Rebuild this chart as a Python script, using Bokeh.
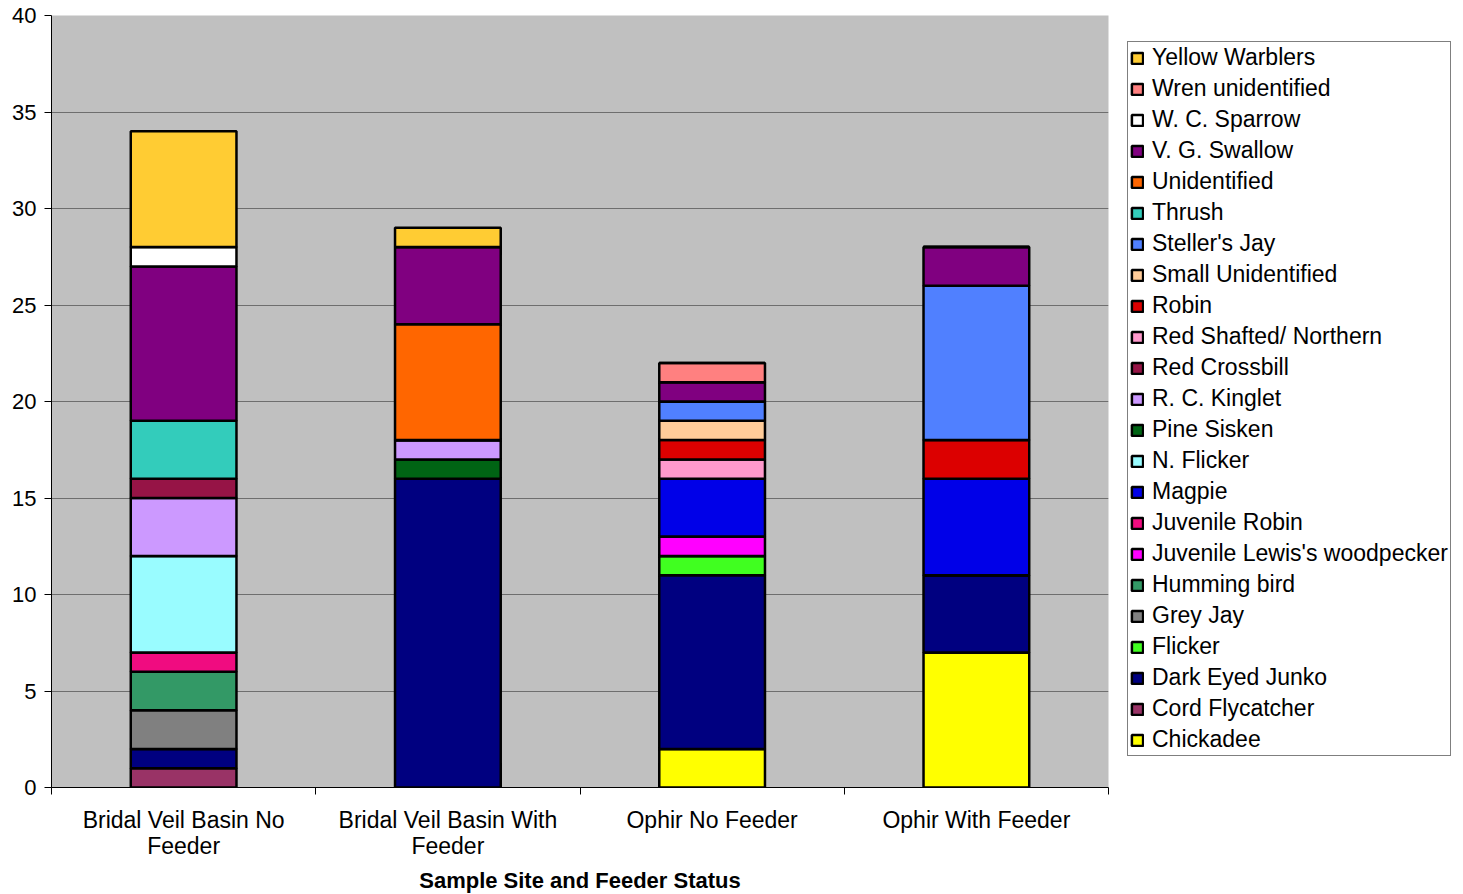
import numpy as np
from bokeh.plotting import figure
from bokeh.models import Range1d, FixedTicker, Legend, LegendItem, ColumnDataSource
from bokeh.embed import file_html
from bokeh.resources import INLINE

categories = ["Bridal Veil Basin No Feeder", "Bridal Veil Basin With Feeder",
              "Ophir No Feeder", "Ophir With Feeder"]
tick_labels = ["Bridal Veil Basin No\nFeeder", "Bridal Veil Basin With\nFeeder",
               "Ophir No Feeder", "Ophir With Feeder"]

species = ["Chickadee", "Cord Flycatcher", "Dark Eyed Junko", "Flicker", "Grey Jay",
           "Humming bird", "Juvenile Lewis's woodpecker", "Juvenile Robin", "Magpie",
           "N. Flicker", "Pine Sisken", "R. C. Kinglet", "Red Crossbill",
           "Red Shafted/ Northern", "Robin", "Small Unidentified", "Steller's Jay",
           "Thrush", "Unidentified", "V. G. Swallow", "W. C. Sparrow",
           "Wren unidentified", "Yellow Warblers"]

chickadee = [0, 0, 2, 7]
cord_flycatcher = [1, 0, 0, 0]
dark_eyed_junko = [1, 16, 9, 4]
flicker = [0, 0, 1, 0]
grey_jay = [2, 0, 0, 0]
humming_bird = [2, 0, 0, 0]
juv_lewis_woodpecker = [0, 0, 1, 0]
juvenile_robin = [1, 0, 0, 0]
magpie = [0, 0, 3, 5]
n_flicker = [5, 0, 0, 0]
pine_sisken = [0, 1, 0, 0]
rc_kinglet = [3, 1, 0, 0]
red_crossbill = [1, 0, 0, 0]
red_shafted = [0, 0, 1, 0]
robin = [0, 0, 1, 2]
small_unidentified = [0, 0, 1, 0]
stellers_jay = [0, 0, 1, 8]
thrush = [3, 0, 0, 0]
unidentified = [0, 6, 0, 0]
vg_swallow = [8, 4, 1, 2]
wc_sparrow = [1, 0, 0, 0]
wren_unidentified = [0, 0, 1, 0]
yellow_warblers = [6, 1, 0, 0]

values = [chickadee, cord_flycatcher, dark_eyed_junko, flicker, grey_jay, humming_bird,
          juv_lewis_woodpecker, juvenile_robin, magpie, n_flicker, pine_sisken, rc_kinglet,
          red_crossbill, red_shafted, robin, small_unidentified, stellers_jay, thrush,
          unidentified, vg_swallow, wc_sparrow, wren_unidentified, yellow_warblers]

colors = ["#FFFF00", "#993366", "#000080", "#40FF20", "#808080", "#339966", "#FF00FF",
          "#F00C80", "#0000E8", "#99FCFF", "#006414", "#CC99FF", "#961446", "#FF99CC",
          "#DC0000", "#FFCC99", "#5080FF", "#33CCBB", "#FF6600", "#800080", "#FFFFFF",
          "#FF8080", "#FFCC33"]

FONT = "Liberation Sans"

x_pos = list(np.arange(len(categories)) + 0.5)
data = {"x": x_pos}
keys = []
for i, v in enumerate(values):
    k = "s%d" % i
    keys.append(k)
    data[k] = v
source = ColumnDataSource(data)

p = figure(frame_width=1057, frame_height=772, output_backend="svg", toolbar_location=None,
           x_range=Range1d(0, len(categories)), y_range=Range1d(0, 40),
           min_border_left=51, min_border_right=355, min_border_top=15,
           min_border_bottom=107)
p.background_fill_color = "#C0C0C0"
p.border_fill_color = "white"
p.outline_line_color = None

renderers = p.vbar_stack(keys, x="x", width=0.4, source=source, fill_color=colors,
                         line_color="black", line_width=2.5)

# axes
p.yaxis.ticker = FixedTicker(ticks=list(range(0, 41, 5)))
p.yaxis.major_tick_out = 7
p.yaxis.major_tick_in = 0
p.yaxis.minor_tick_out = 0
p.yaxis.axis_line_color = "black"
p.yaxis.major_label_text_font = FONT
p.yaxis.major_label_text_font_size = "22px"
p.yaxis.major_label_text_color = "black"
p.yaxis.major_label_standoff = 8

p.xaxis.ticker = FixedTicker(ticks=x_pos, minor_ticks=list(range(0, len(categories) + 1)))
p.xaxis.major_label_overrides = {x: lab for x, lab in zip(x_pos, tick_labels)}
p.xaxis.major_tick_out = 0
p.xaxis.major_tick_in = 0
p.xaxis.minor_tick_out = 7
p.xaxis.minor_tick_in = 0
p.xaxis.axis_line_color = "black"
p.xaxis.major_label_text_font = FONT
p.xaxis.major_label_text_font_size = "23px"
p.xaxis.major_label_text_color = "black"
p.xaxis.major_label_text_line_height = 1.0
p.xaxis.major_label_standoff = 12
p.xaxis.axis_label = "Sample Site and Feeder Status"
p.xaxis.axis_label_text_font = FONT
p.xaxis.axis_label_text_font_size = "22px"
p.xaxis.axis_label_text_font_style = "bold"
p.xaxis.axis_label_text_color = "black"
p.xaxis.axis_label_standoff = 6

p.xgrid.visible = False
p.ygrid.ticker = FixedTicker(ticks=list(range(0, 41, 5)))
p.ygrid.grid_line_color = "#6E6E6E"
p.ygrid.grid_line_width = 1

items = [LegendItem(label=species[i], renderers=[renderers[i]])
         for i in range(len(species) - 1, -1, -1)]
legend = Legend(items=items, location=(19, 31))
legend.label_text_font = FONT
legend.label_text_font_size = "23px"
legend.label_text_color = "black"
legend.glyph_width = 14
legend.glyph_height = 14
legend.label_height = 20
legend.spacing = 4
legend.padding = 2
legend.margin = 0
legend.label_standoff = 8
legend.border_line_color = "black"
legend.border_line_width = 1
legend.background_fill_color = "white"
legend.background_fill_alpha = 1
p.add_layout(legend, "right")

open("out.html", "w").write(file_html(p, INLINE))
